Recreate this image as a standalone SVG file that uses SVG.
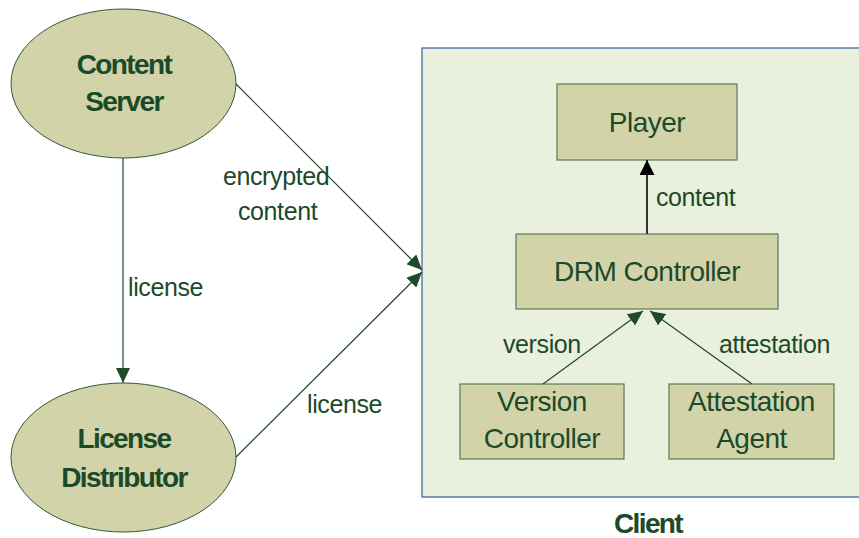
<svg xmlns="http://www.w3.org/2000/svg" width="859" height="538" viewBox="0 0 859 538">
<style>
.node{fill:#d3d3a9;stroke:#2e5a3a;stroke-width:1}
.box{fill:#d3d3a9;stroke:#5c7a58;stroke-width:1.2}
.bt{font-family:"Liberation Sans",Arial,sans-serif;font-weight:bold;font-size:28px;letter-spacing:-1.6px;fill:#1b4a2a;text-anchor:middle}
.t{font-family:"Liberation Sans",Arial,sans-serif;font-size:28px;letter-spacing:-0.5px;fill:#1b4a2a;text-anchor:middle}
.lbl{font-family:"Liberation Sans",Arial,sans-serif;font-size:25px;letter-spacing:-0.4px;fill:#1b4a2a}
.edge{stroke:#1e4a2a;stroke-width:1.2;fill:none}
</style>
<defs>
<marker id="ag" markerUnits="userSpaceOnUse" markerWidth="16" markerHeight="14" refX="15" refY="7" orient="auto">
<path d="M0,0 L15,7 L0,14 z" fill="#1e4a2a"/>
</marker>
<marker id="ak" markerUnits="userSpaceOnUse" markerWidth="16" markerHeight="15" refX="15" refY="7.5" orient="auto">
<path d="M0,0 L15,7.5 L0,15 z" fill="#000"/>
</marker>
</defs>
<rect width="859" height="538" fill="#fff"/>
<g id="client">
<rect x="422" y="48" width="440" height="449" fill="#e9f0dd" stroke="#3a5a96" stroke-width="1.2"/>
<text class="bt" x="648" y="533">Client</text>
</g>
<g id="content-server">
<ellipse class="node" cx="123.5" cy="83.5" rx="112.5" ry="74.5"/>
<text class="bt" x="124" y="74">Content</text>
<text class="bt" x="124" y="111">Server</text>
</g>
<g id="license-distributor">
<ellipse class="node" cx="123.5" cy="457.5" rx="112.5" ry="74.5"/>
<text class="bt" x="124" y="448">License</text>
<text class="bt" x="124" y="487">Distributor</text>
</g>
<g id="player">
<rect class="box" x="557" y="84" width="180" height="76"/>
<text class="t" x="647" y="132">Player</text>
</g>
<g id="drm-controller">
<rect class="box" x="516" y="234" width="262" height="75"/>
<text class="t" x="647" y="281">DRM Controller</text>
</g>
<g id="version-controller">
<rect class="box" x="460" y="384" width="164" height="75"/>
<text class="t" x="542" y="411">Version</text>
<text class="t" x="542" y="448">Controller</text>
</g>
<g id="attestation-agent">
<rect class="box" x="669" y="384" width="165" height="75"/>
<text class="t" x="751.5" y="411">Attestation</text>
<text class="t" x="751.5" y="448">Agent</text>
</g>
<g id="connectors">
<line class="edge" x1="123" y1="158" x2="123" y2="383" marker-end="url(#ag)"/>
<line class="edge" x1="236" y1="84" x2="422" y2="270" marker-end="url(#ag)"/>
<line class="edge" x1="236" y1="457" x2="422" y2="272" marker-end="url(#ag)"/>
<line x1="647" y1="234" x2="647" y2="160" stroke="#333" stroke-width="2" marker-end="url(#ak)"/>
<line class="edge" x1="543" y1="384" x2="643" y2="311" marker-end="url(#ag)"/>
<line class="edge" x1="752" y1="384" x2="650" y2="311" marker-end="url(#ag)"/>
<text class="lbl" x="223" y="185">encrypted</text>
<text class="lbl" x="238" y="220">content</text>
<text class="lbl" x="128" y="296">license</text>
<text class="lbl" x="307" y="413">license</text>
<text class="lbl" x="656" y="206">content</text>
<text class="lbl" x="503" y="353">version</text>
<text class="lbl" x="719" y="353">attestation</text>
</g>
</svg>
